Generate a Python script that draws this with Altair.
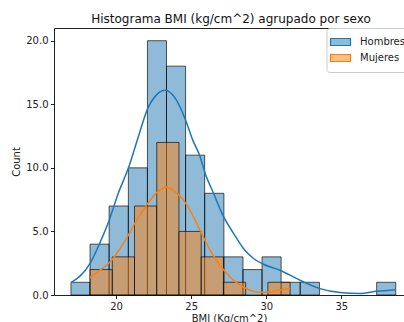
import altair as alt
import pandas as pd

# ---- data ----
sexos = ["Hombres", "Mujeres"]
colores = ["#1f77b4", "#ff7f0e"]
colores_relleno = ["rgba(31,119,180,0.5)", "rgba(255,127,14,0.5)"]

hombres_edges = [17.00, 18.27, 19.54, 20.82, 22.09, 23.36, 24.63, 25.90, 27.18,
                 28.45, 29.72, 30.99, 32.26, 33.54, 34.81, 36.08, 37.35, 38.62]
hombres_counts = [1, 4, 7, 10, 20, 18, 11, 8, 3, 2, 3, 1, 1, 0, 0, 0, 1]

mujeres_edges = [18.27, 19.75, 21.23, 22.71, 24.19, 25.67, 27.15, 28.63, 30.11, 31.59]
mujeres_counts = [2, 3, 7, 12, 5, 3, 1, 0, 1]

hombres_kde_x = [17.0, 18.27, 18.89, 19.55, 20.15, 20.82, 21.49, 22.08, 22.71, 23.26,
                 24.0, 24.62, 25.1, 25.59, 25.93, 26.49, 27.16, 27.82, 28.48, 29.15,
                 29.81, 30.92, 32.25, 33.58, 34.91, 36.24, 37.35, 38.62]
hombres_kde_y = [0.98, 2.48, 4.0, 5.9, 8.0, 9.98, 12.47, 14.58, 15.76, 16.1,
                 15.37, 13.79, 12.2, 10.9, 9.58, 8.0, 6.16, 4.85, 3.66, 2.87,
                 2.42, 1.95, 1.16, 0.5, 0.19, 0.12, 0.29, 0.42]

mujeres_kde_x = [18.27, 18.93, 19.6, 20.27, 20.82, 21.38, 22.04, 22.71, 23.35, 23.93,
                 24.48, 25.04, 25.59, 26.26, 26.92, 27.59, 28.26, 28.92, 29.59, 30.25,
                 30.92, 31.59]
mujeres_kde_y = [1.37, 1.95, 2.6, 3.66, 4.71, 5.9, 7.08, 8.05, 8.47, 8.13,
                 7.47, 6.42, 5.1, 3.53, 2.34, 1.42, 0.77, 0.37, 0.21, 0.24,
                 0.4, 0.52]

y_ticks = [0, 2.5, 5, 7.5, 10, 12.5, 15, 17.5, 20]
x_ticks = [20, 25, 30, 35]

# ---- tables ----
rows = []
for sexo, edges, counts in [("Hombres", hombres_edges, hombres_counts),
                            ("Mujeres", mujeres_edges, mujeres_counts)]:
    for i, c in enumerate(counts):
        if c > 0:
            rows.append({"sexo": sexo, "x0": edges[i], "x1": edges[i + 1], "count": c})
bars_df = pd.DataFrame(rows)

kde_rows = []
for sexo, xs, ys in [("Hombres", hombres_kde_x, hombres_kde_y),
                     ("Mujeres", mujeres_kde_x, mujeres_kde_y)]:
    for xv, yv in zip(xs, ys):
        kde_rows.append({"sexo": sexo, "x": xv, "y": yv})
kde_df = pd.DataFrame(kde_rows)

FONT = "DejaVu Sans"
xscale = alt.Scale(domain=[15.87, 39.17], nice=False, zero=False)
yscale = alt.Scale(domain=[0, 21], nice=False)
fill_scale = alt.Scale(domain=sexos, range=colores_relleno)
stroke_scale = alt.Scale(domain=sexos, range=colores)

legend_path = "M-2,-0.7L2,-0.7L2,0.7L-2,0.7Z"

bars = alt.Chart(bars_df).mark_bar(
    stroke="#000000", strokeOpacity=0.65, strokeWidth=1
).encode(
    x=alt.X("x0:Q", scale=xscale,
            axis=alt.Axis(values=x_ticks, title="BMI (Kg/cm^2)", format="d")),
    x2="x1:Q",
    y=alt.Y("count:Q", scale=yscale,
            axis=alt.Axis(values=y_ticks, format=".1f", title="Count")),
    y2=alt.datum(0),
    fill=alt.Fill("sexo:N", scale=fill_scale,
                  legend=alt.Legend(orient="none", legendX=272.5, legendY=0,
                                    title=None, symbolType=legend_path,
                                    symbolSize=100, symbolStrokeColor="#333333",
                                    symbolStrokeWidth=1.2, symbolOpacity=1,
                                    labelFont=FONT, labelFontSize=10,
                                    labelColor="#222222", labelOffset=13.5,
                                    rowPadding=4, padding=8,
                                    strokeColor="#cccccc", cornerRadius=3,
                                    fillColor="rgba(255,255,255,0.8)")),
)

lines = alt.Chart(kde_df).mark_line(strokeWidth=1.5, interpolate="monotone").encode(
    x=alt.X("x:Q", scale=xscale,
            axis=alt.Axis(orient="top", labels=False, ticks=False, title=None,
                          minExtent=0, maxExtent=0, offset=0)),
    y=alt.Y("y:Q", scale=yscale),
    stroke=alt.Stroke("sexo:N", scale=stroke_scale, legend=None),
    detail="sexo:N",
)

chart = alt.layer(bars, lines).resolve_axis(x="independent").properties(
    width=350,
    height=267,
    autosize=alt.AutoSizeParams(type="none"),
    padding={"left": 54, "top": 28, "right": 0, "bottom": 27},
    title=alt.TitleParams(
        text="Histograma BMI (kg/cm^2) agrupado por sexo",
        font=FONT, fontSize=12, fontWeight="normal", color="#111111",
        anchor="middle", baseline="alphabetic", offset=-7, dx=2,
    ),
).configure_view(stroke=None).configure_axis(
    grid=False,
    labelFont=FONT, labelFontSize=10, labelColor="#222222",
    titleFont=FONT, titleFontSize=10, titleFontWeight="normal", titleColor="#222222",
    domainColor="#222222", tickColor="#222222", tickSize=3.5,
    labelPadding=2.5, domainWidth=1, tickWidth=1,
).configure_axisY(titlePadding=4).configure_axisX(titlePadding=2)

chart.save("out.html", embed_options={"renderer": "svg", "actions": False})
